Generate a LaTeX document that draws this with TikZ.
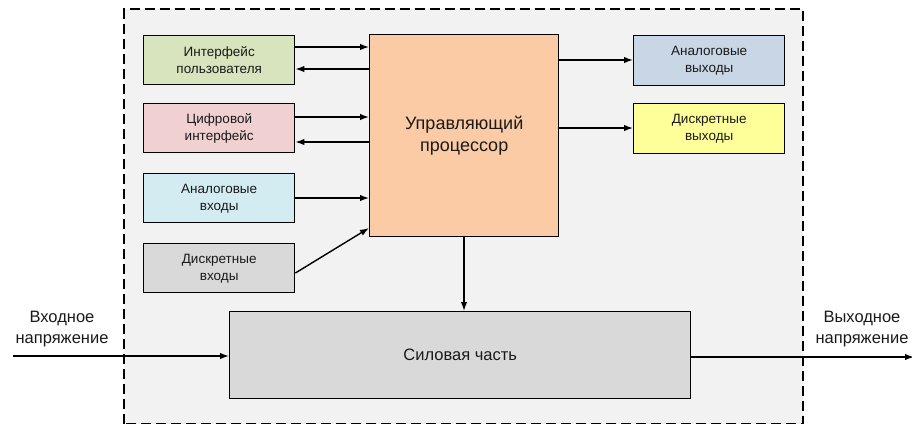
\documentclass[tikz,border=0pt]{standalone}
\usepackage{fontspec}
\setmainfont{Liberation Sans}
\usetikzlibrary{arrows.meta}
\definecolor{bgc}{HTML}{F2F2F2}
\definecolor{uic}{HTML}{D7E4BD}
\definecolor{dic}{HTML}{F0D0D0}
\definecolor{aic}{HTML}{D3ECF1}
\definecolor{gric}{HTML}{D9D9D9}
\definecolor{prc}{HTML}{FACBA5}
\definecolor{aoc}{HTML}{C8D6E6}
\definecolor{doc}{HTML}{FFFF99}
\definecolor{txc}{HTML}{1A1A1A}
\tikzset{
  blk/.style={draw=black, line width=1.4pt, inner sep=0pt, anchor=north west, align=center, text=txc,
    font=\fontsize{13.5}{17}\selectfont},
  conn/.style={line width=1.4pt, -{Latex[length=9pt,width=6.5pt]}},
  lbl/.style={align=center, text=txc, font=\fontsize{16.5}{21}\selectfont, inner sep=0pt}
}
\begin{document}
\begin{tikzpicture}[x=1pt,y=-1pt]
\useasboundingbox (0,0) rectangle (912,424);
\fill[bgc] (124,9) rectangle (803,424);
\draw[line width=1.8pt, dash pattern=on 10pt off 5pt] (124,423.5) -- (124,9) -- (803,9) -- (803,423.5) -- cycle;

\node[blk, fill=uic, minimum width=151pt, minimum height=49pt] (ui) at (143,35) {Интерфейс\\пользователя};
\node[blk, fill=dic, minimum width=151pt, minimum height=49pt] (di) at (143,103) {Цифровой\\интерфейс};
\node[blk, fill=aic, minimum width=151pt, minimum height=49pt] (ai) at (143,173) {Аналоговые\\входы};
\node[blk, fill=gric, minimum width=151pt, minimum height=49pt] (dsi) at (143,243) {Дискретные\\входы};
\node[blk, fill=prc, minimum width=189pt, minimum height=202pt, font=\fontsize{18}{22}\selectfont] (pr) at (369,34) {Управляющий\\процессор};
\node[blk, fill=aoc, minimum width=151pt, minimum height=50pt] (ao) at (633,35) {Аналоговые\\выходы};
\node[blk, fill=doc, minimum width=151pt, minimum height=50pt] (dso) at (633,103) {Дискретные\\выходы};
\node[blk, fill=gric, minimum width=461pt, minimum height=87pt, font=\fontsize{16.5}{20}\selectfont] (pw) at (229,311) {Силовая часть};

\node[lbl] (inl) at (62,329) {Входное\\напряжение};
\node[lbl] (outl) at (862,329) {Выходное\\напряжение};

\coordinate (inS) at (13,356);
\coordinate (outE) at (914,357);

\draw[conn] (ui.east |- 0,47) -- (pr.west |- 0,47);
\draw[conn] (pr.west |- 0,69) -- (ui.east |- 0,69);
\draw[conn] (di.east |- 0,117) -- (pr.west |- 0,117);
\draw[conn] (pr.west |- 0,142) -- (di.east |- 0,142);
\draw[conn] (ai.east |- 0,198) -- (pr.west |- 0,198);
\draw[conn] (dsi.east |- 0,273) -- (pr.west |- 0,228);
\draw[conn] (pr.east |- 0,60) -- (ao.west |- 0,60);
\draw[conn] (pr.east |- 0,128) -- (dso.west |- 0,128);
\draw[conn] (pr.south -| 464,0) -- (pw.north -| 464,0);
\draw[conn] (inS) -- (pw.west |- inS);
\draw[conn] (pw.east |- outE) -- (outE);
\end{tikzpicture}
\end{document}
